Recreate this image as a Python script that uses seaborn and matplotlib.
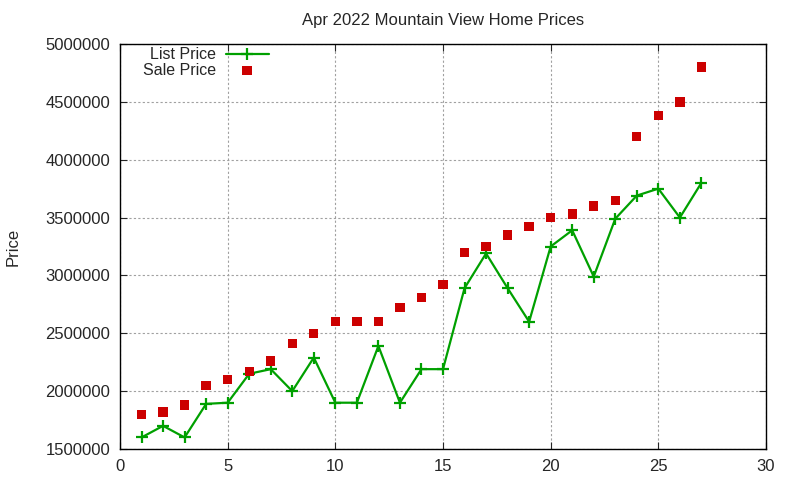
import matplotlib
matplotlib.use("Agg")
import matplotlib.pyplot as plt
import seaborn as sns
import pandas as pd

dias = list(range(1, 28))
list_price = [1600000, 1700000, 1600000, 1890000, 1900000, 2150000, 2190000, 2000000, 2290000,
              1900000, 1900000, 2390000, 1900000, 2190000, 2190000, 2890000, 3190000, 2890000,
              2600000, 3250000, 3390000, 2990000, 3490000, 3690000, 3750000, 3500000, 3800000]
sale_price = [1800000, 1820000, 1880000, 2050000, 2100000, 2170000, 2260000, 2410000, 2500000,
              2600000, 2600000, 2600000, 2720000, 2810000, 2920000, 3200000, 3250000, 3350000,
              3420000, 3500000, 3530000, 3600000, 3650000, 4200000, 4380000, 4500000, 4800000]

df = pd.DataFrame({"dia": dias, "list": list_price, "sale": sale_price})

sns.set_style("ticks")
plt.rcParams["font.family"] = ["Liberation Sans", "DejaVu Sans"]

fig = plt.figure(figsize=(8, 4.8), dpi=100)
ax = fig.add_axes([0.15, 0.0646, 0.8075, 0.8437])

verde = "#00a000"
sns.lineplot(data=df, x="dia", y="list", ax=ax, color=verde, linewidth=1.6,
             marker="+", markersize=8, markeredgewidth=1.6, markeredgecolor=verde,
             label="List Price")
sns.scatterplot(data=df, x="dia", y="sale", ax=ax, color="#cc0000", marker="s",
                s=45, edgecolor="none", label="Sale Price", zorder=3)

ax.set_xlim(0, 30)
ax.set_ylim(1500000, 5000000)
ax.set_xticks(range(0, 31, 5))
ax.set_yticks(range(1500000, 5000001, 500000))
ax.ticklabel_format(style="plain", axis="y")
ax.grid(True, color="#a0a0a0", linestyle=(0, (2, 2)), linewidth=0.8)
ax.tick_params(direction="in", top=True, right=True, labelsize=12, length=5, pad=7)
for s in ax.spines.values():
    s.set_visible(True)
    s.set_color("black")
    s.set_linewidth(1)

ax.set_title("Apr 2022 Mountain View Home Prices", fontsize=12, pad=14)
ax.set_xlabel("")
ax.set_ylabel("Price", fontsize=12, labelpad=18)

leg = ax.legend(loc="upper left", bbox_to_anchor=(0.018, 1.02), frameon=False,
                markerfirst=False, fontsize=11.5, handlelength=2.7, borderaxespad=0.3,
                labelspacing=0.05, handletextpad=0.6)

plt.savefig("out.png", dpi=100)
